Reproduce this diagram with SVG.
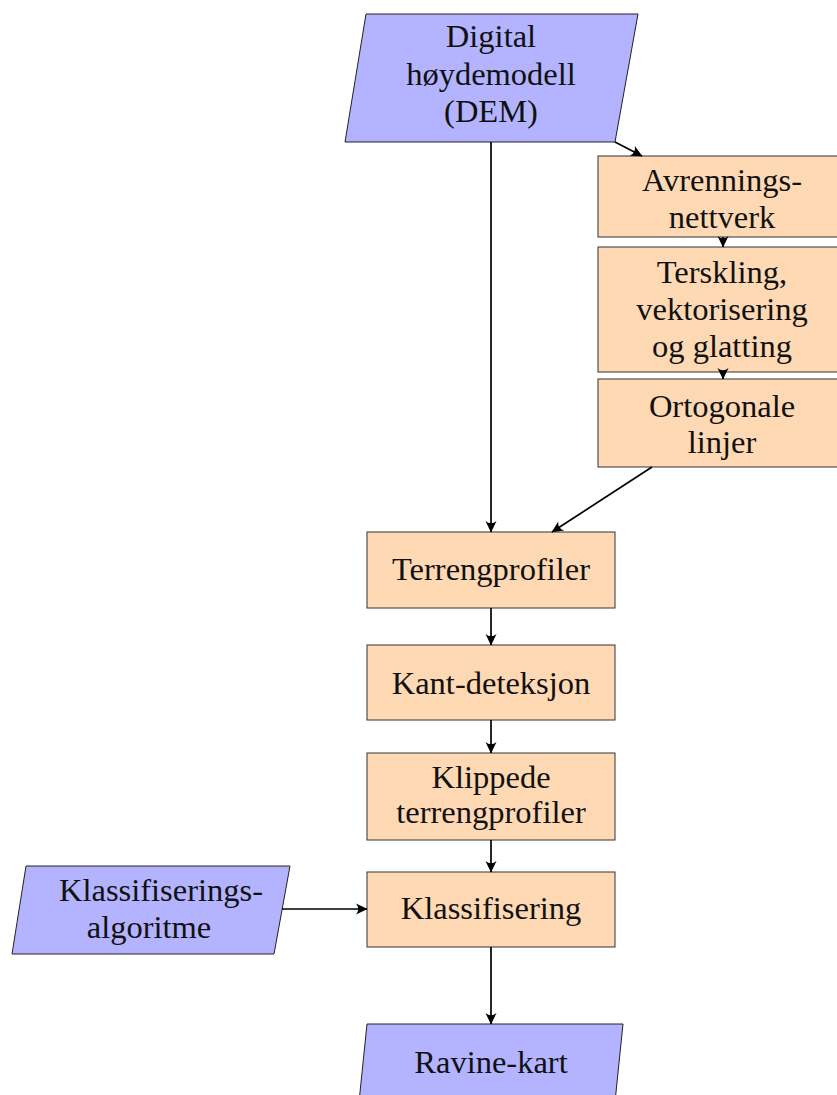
<svg xmlns="http://www.w3.org/2000/svg" width="837" height="1095" viewBox="0 0 837 1095">
<style>
.proc{fill:#FFD9B3;stroke:#333;stroke-width:1}
.io{fill:#B3B3FF;stroke:#222;stroke-width:1}
text{font-family:"Liberation Serif","Times New Roman",serif;font-size:32.5px;fill:#111;text-anchor:middle}
.conn line{stroke:#000;stroke-width:1.7;fill:none}
</style>
<defs>
<marker id="ah" markerUnits="userSpaceOnUse" markerWidth="16" markerHeight="14" viewBox="-13 -7 14 14" refX="0" refY="0" orient="auto">
<path d="M0.5,0 L-11,-5.5 Q-6.5,0 -11,5.5 Z" fill="#000"/>
</marker>
</defs>
<rect width="837" height="1095" fill="#fff"/>
<g id="dem">
<polygon class="io" points="366,14 638,14 615,142 345,142"/>
<text x="491" y="47">Digital</text>
<text x="491" y="85">høydemodell</text>
<text x="491" y="122">(DEM)</text>
</g>
<g id="avrennings">
<rect class="proc" x="598" y="156" width="250" height="81"/>
<text x="722" y="191">Avrennings-</text>
<text x="722" y="228">nettverk</text>
</g>
<g id="terskling">
<rect class="proc" x="598" y="247" width="250" height="125"/>
<text x="722" y="283">Terskling,</text>
<text x="722" y="320">vektorisering</text>
<text x="722" y="357">og glatting</text>
</g>
<g id="ortogonale">
<rect class="proc" x="598" y="379" width="250" height="88"/>
<text x="722" y="417">Ortogonale</text>
<text x="722" y="453">linjer</text>
</g>
<g id="terrengprofiler">
<rect class="proc" x="367" y="532" width="248" height="76"/>
<text x="491" y="580">Terrengprofiler</text>
</g>
<g id="kant">
<rect class="proc" x="367" y="645" width="248" height="75"/>
<text x="491" y="694">Kant-deteksjon</text>
</g>
<g id="klippede">
<rect class="proc" x="367" y="753" width="248" height="87"/>
<text x="491" y="788">Klippede</text>
<text x="491" y="823">terrengprofiler</text>
</g>
<g id="klassifisering">
<rect class="proc" x="367" y="872" width="248" height="75"/>
<text x="491" y="919">Klassifisering</text>
</g>
<g id="algoritme">
<polygon class="io" points="26,866 290,866 274,954 12,954"/>
<text x="161" y="901">Klassifiserings-</text>
<text x="149" y="938">algoritme</text>
</g>
<g id="ravine">
<polygon class="io" points="367,1024 623,1024 615,1102 359,1102"/>
<text x="491" y="1073">Ravine-kart</text>
</g>
<g id="connectors" class="conn">
<line x1="491" y1="142" x2="491" y2="532" marker-end="url(#ah)"/>
<line x1="615" y1="142" x2="642" y2="156" marker-end="url(#ah)"/>
<line x1="723" y1="237" x2="723" y2="247" marker-end="url(#ah)"/>
<line x1="723" y1="372" x2="723" y2="379" marker-end="url(#ah)"/>
<line x1="652" y1="467" x2="552" y2="532" marker-end="url(#ah)"/>
<line x1="491" y1="608" x2="491" y2="645" marker-end="url(#ah)"/>
<line x1="491" y1="720" x2="491" y2="753" marker-end="url(#ah)"/>
<line x1="491" y1="840" x2="491" y2="872" marker-end="url(#ah)"/>
<line x1="282" y1="909" x2="367" y2="909" marker-end="url(#ah)"/>
<line x1="491" y1="947" x2="491" y2="1024" marker-end="url(#ah)"/>
</g>
</svg>
